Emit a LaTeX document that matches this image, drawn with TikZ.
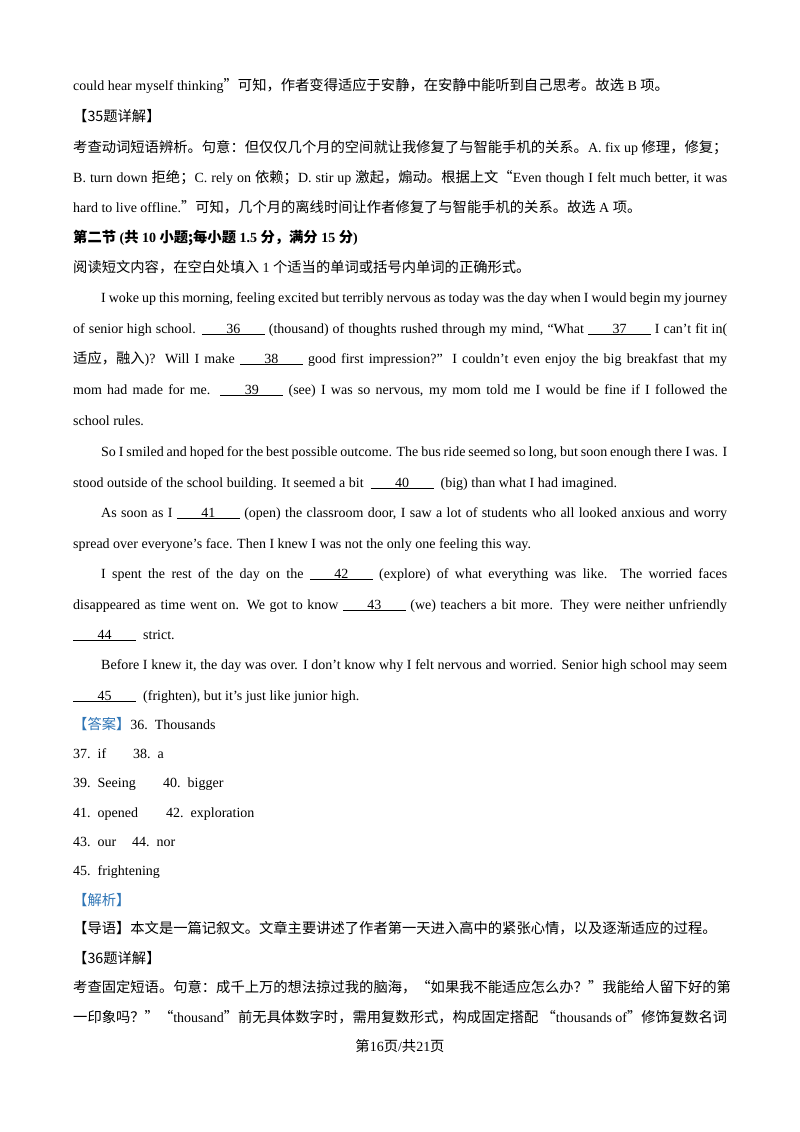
\documentclass[tikz,border=0pt]{standalone}
\usepackage{fontspec}
\setmainfont{Liberation Serif}
\newfontfamily\cjk{Noto Sans CJK SC}
\newcommand\zh[1]{{\cjk\fontsize{14.3}{16}\selectfont #1}}
\newcommand\blank[1]{\underline{\hspace{1.75em}#1\hspace{1.75em}}}
\definecolor{ansblue}{HTML}{2E75B6}
\newcommand\J[1]{\makebox[654pt][s]{#1}}
\newcommand\JI[1]{\makebox[626pt][s]{#1}}
\begin{document}
\begin{tikzpicture}[x=1pt,y=-1pt,
  every node/.style={anchor=base west,inner sep=0pt,font=\fontsize{14}{16}\selectfont}]
\useasboundingbox (0,0) rectangle (800,1132);
\fill[white] (0,0) rectangle (800,1132);
\node (l1) at (73,90) {could hear myself thinking\zh{”可知，作者变得适应于安静，在安静中能听到自己思考。故选} B \zh{项。}};
\node (l2) at (73,121) {\zh{【35题详解】}};
\node (l3) at (73,152) {\zh{考查动词短语辨析。句意：但仅仅几个月的空间就让我修复了与智能手机的关系。}A. fix up \zh{修理，修复；}};
\node (l4) at (73,182) {\J{B. turn down \zh{拒绝；}C. rely on \zh{依赖；}D. stir up \zh{激起，煽动。根据上文“}Even though I felt much better, it was}};
\node (l5) at (73,212) {hard to live offline.\zh{”可知，几个月的离线时间让作者修复了与智能手机的关系。故选} A \zh{项。}};
\node (l6) at (73,242) {\textbf{\zh{\bfseries 第二节} (\zh{\bfseries 共} 10 \zh{\bfseries 小题}\zh{\bfseries ;每小题} 1.5 \zh{\bfseries 分，满分} 15 \zh{\bfseries 分})}};
\node (l7) at (73,272) {\zh{阅读短文内容，在空白处填入} 1 \zh{个适当的单词或括号内单词的正确形式。}};
\node (l8) at (101,302) {\JI{I woke up this morning, feeling excited but terribly nervous as today was the day when I would begin my journey}};
\node (l9) at (73,333) {\J{of senior high school. \blank{36} (thousand) of thoughts rushed through my mind, “What \blank{37} I can’t fit in(}};
\node (l10) at (73,363) {\J{\zh{适应，融入})? Will I make \blank{38} good first impression?” I couldn’t even enjoy the big breakfast that my}};
\node (l11) at (73,394) {\J{mom had made for me. \blank{39} (see) I was so nervous, my mom told me I would be fine if I followed the}};
\node (l12) at (73,425) {school rules.};
\node (l13) at (101,456) {\JI{So I smiled and hoped for the best possible outcome. The bus ride seemed so long, but soon enough there I was. I}};
\node (l14) at (73,487) {stood outside of the school building. It seemed a bit \ \blank{40} \ (big) than what I had imagined.};
\node (l15) at (101,517) {\JI{As soon as I \blank{41} (open) the classroom door, I saw a lot of students who all looked anxious and worry}};
\node (l16) at (73,548) {spread over everyone’s face. Then I knew I was not the only one feeling this way.};
\node (l17) at (101,578) {\JI{I spent the rest of the day on the \blank{42} (explore) of what everything was like. The worried faces}};
\node (l18) at (73,609) {\J{disappeared as time went on. We got to know \blank{43} (we) teachers a bit more. They were neither unfriendly}};
\node (l19) at (73,639) {\blank{44} \ strict.};
\node (l20) at (101,669) {\JI{Before I knew it, the day was over. I don’t know why I felt nervous and worried. Senior high school may seem}};
\node (l21) at (73,700) {\blank{45} \ (frighten), but it’s just like junior high.};
\node (a1) at (73,729) {\zh{\color{ansblue}【答案】}36.\ \ Thousands};
\node (a2) at (73,758) {37.\ \ if};
\node (a3) at (133,758) {38.\ \ a};
\node (a4) at (73,787) {39.\ \ Seeing};
\node (a5) at (163,787) {40.\ \ bigger};
\node (a6) at (73,817) {41.\ \ opened};
\node (a7) at (166,817) {42.\ \ exploration};
\node (a8) at (73,846) {43.\ \ our};
\node (a9) at (132,846) {44.\ \ nor};
\node (a10) at (73,875) {45.\ \ frightening};
\node (j1) at (73,905) {\zh{\color{ansblue}【解析】}};
\node (j2) at (73,933) {\zh{【导语】本文是一篇记叙文。文章主要讲述了作者第一天进入高中的紧张心情，以及逐渐适应的过程。}};
\node (j3) at (73,963) {\zh{【36题详解】}};
\node (j4) at (73,992) {\zh{考查固定短语。句意：成千上万的想法掠过我的脑海，“如果我不能适应怎么办？”我能给人留下好的第}};
\node (j5) at (73,1022) {\zh{一印象吗？”“}thousand\zh{”前无具体数字时，需用复数形式，构成固定搭配 “}thousands of\zh{”修饰复数名词}};
\node[anchor=base] (pg) at (400,1051) {\zh{第}16\zh{页}/\zh{共}21\zh{页}};
\end{tikzpicture}
\end{document}
